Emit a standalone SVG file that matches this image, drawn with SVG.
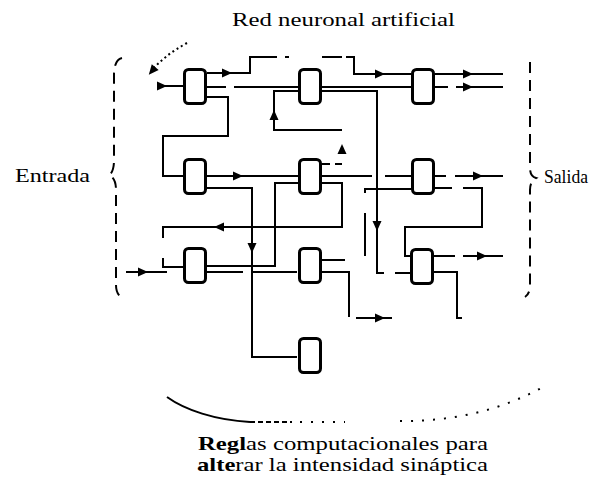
<svg xmlns="http://www.w3.org/2000/svg" xmlns:xlink="http://www.w3.org/1999/xlink" width="592" height="482" viewBox="0 0 592 482">
<style>
.n{fill:#fff;stroke:#000;stroke-width:3}
.c{fill:none;stroke:#000;stroke-width:2}
.b{fill:none;stroke:#000;stroke-width:2;stroke-dasharray:11 7}
.t{font-family:"Liberation Serif",serif;fill:#000}
.a{fill:#000}
</style>
<defs>
<path id="ah" d="M-5,-4.5 L5,0 L-5,4.5 Z"/>
<rect id="nd" x="1.5" y="1.5" width="21" height="34" rx="4"/>
</defs>
<rect width="592" height="482" fill="#fff"/>

<g id="labels">
<text class="t" x="232" y="26" font-size="19" textLength="223" lengthAdjust="spacingAndGlyphs">Red neuronal artificial</text>
<text class="t" x="15" y="182" font-size="19" textLength="75" lengthAdjust="spacingAndGlyphs">Entrada</text>
<text class="t" x="544" y="183" font-size="18" textLength="44" lengthAdjust="spacingAndGlyphs">Salida</text>
<text class="t" x="198" y="450" font-size="19" textLength="290" lengthAdjust="spacingAndGlyphs"><tspan font-weight="bold">Regl</tspan>as computacionales para</text>
<text class="t" x="197" y="471" font-size="19" textLength="291" lengthAdjust="spacingAndGlyphs"><tspan font-weight="bold">alte</tspan>rar la intensidad sináptica</text>
</g>

<g id="braces">
<path class="b" d="M122,58 Q114,60 114,75 L114,160 Q114,172 109,175 Q116,178 116,190 L116,285 Q116,295 123,298"/>
<path class="b" d="M530,62 L530,168 Q530,176 536,178 Q530,181 530,190 L530,285 Q530,294 525,297"/>
<path class="c" stroke-width="3" d="M167,397 C185,410 215,420 250,422"/>
<path class="c" stroke-dasharray="5 3" d="M250,422 H292"/>
<path class="c" stroke-dasharray="2 9" d="M300,422 H345 M400,421 Q480,422 545,386"/>
</g>

<g id="connectors">
<path class="c" stroke-dasharray="2 3" d="M187,43 Q165,55 152,70"/>
<use href="#ah" class="a" transform="translate(152,71) rotate(130)"/>
<path class="c" d="M157,86 H183"/>
<use href="#ah" class="a" transform="translate(162,86)"/>
<path class="c" d="M207,73 H250 V57 H277 M285,57 H289 M322,57 H342 M346,57 H354 V74 H411"/>
<use href="#ah" class="a" transform="translate(227,73)"/>
<use href="#ah" class="a" transform="translate(380,74)"/>
<path class="c" d="M207,87 H226 M234,87 H299"/>
<path class="c" d="M207,97 H228 V136 H163 V176 H183"/>
<path class="c" d="M342,130 H274 V91 H299"/>
<use href="#ah" class="a" transform="translate(274,115) rotate(-90)"/>
<path class="c" d="M321,87 H411"/>
<path class="c" d="M321,91 H377 V273 H384 M395,273 H410"/>
<use href="#ah" class="a" transform="translate(377,226) rotate(90)"/>
<path class="c" d="M435,74 H503 M435,87 H448 M456,87 H503"/>
<use href="#ah" class="a" transform="translate(468,74)"/>
<use href="#ah" class="a" transform="translate(468,87)"/>

<path class="c" d="M207,176 H298"/>
<use href="#ah" class="a" transform="translate(238,176)"/>
<path class="c" d="M207,188 H252 V357 H297"/>
<use href="#ah" class="a" transform="translate(252,248) rotate(90)"/>
<path class="c" d="M322,183 H342 V227 H163 V238 M163,258 V267 H183"/>
<use href="#ah" class="a" transform="translate(219,227) rotate(180)"/>
<path class="c" d="M207,266 H275 V183 H298"/>
<path class="c" d="M207,272 H243 M252,272 H297"/>
<path class="c" d="M126,272 H167"/>
<use href="#ah" class="a" transform="translate(143,272)"/>
<path class="c" d="M322,164 H330 M335,164 H342"/>
<use href="#ah" class="a" transform="translate(342,149) rotate(-90)"/>
<path class="c" d="M322,176 H372 M385,176 H411"/>
<path class="c" d="M365,256 V213 M365,193 V189 H411"/>
<path class="c" d="M435,176 H446 M455,176 H503"/>
<use href="#ah" class="a" transform="translate(478,176)"/>
<path class="c" d="M435,188 H452 M463,188 H482 V227 H405 V256 H410"/>
<path class="c" d="M322,260 H345"/>
<path class="c" d="M322,272 H349 V317"/>
<path class="c" d="M356,318 H392"/>
<use href="#ah" class="a" transform="translate(380,318)"/>
<path class="c" d="M434,256 H455 M463,256 H503"/>
<use href="#ah" class="a" transform="translate(482,256)"/>
<path class="c" d="M434,272 H457 V318 H462"/>
</g>

<g id="n11" transform="translate(183,68)"><use href="#nd" class="n"/></g>
<g id="n12" transform="translate(298,68)"><use href="#nd" class="n"/></g>
<g id="n13" transform="translate(411,68)"><use href="#nd" class="n"/></g>
<g id="n21" transform="translate(183,158)"><use href="#nd" class="n"/></g>
<g id="n22" transform="translate(298,158)"><use href="#nd" class="n"/></g>
<g id="n23" transform="translate(411,158)"><use href="#nd" class="n"/></g>
<g id="n31" transform="translate(183,247)"><use href="#nd" class="n"/></g>
<g id="n32" transform="translate(298,247)"><use href="#nd" class="n"/></g>
<g id="n33" transform="translate(410,248)"><use href="#nd" class="n"/></g>
<g id="n42" transform="translate(298,337)"><use href="#nd" class="n"/></g>
</svg>
